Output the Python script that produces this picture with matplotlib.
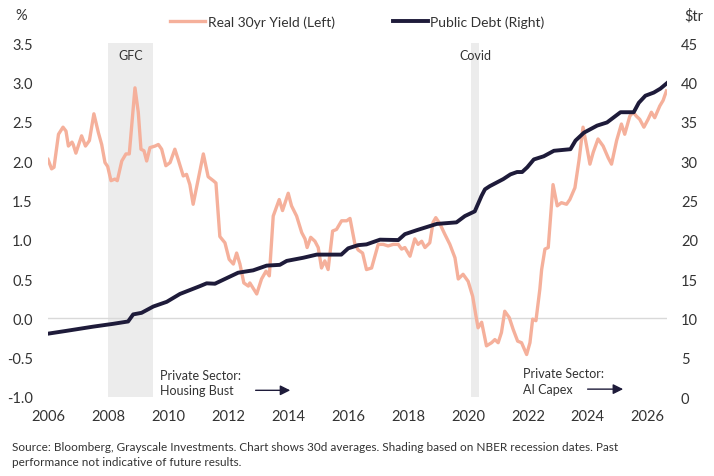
import matplotlib
matplotlib.use("Agg")
import matplotlib.pyplot as plt

plt.rcParams['font.family'] = ['Lato', 'DejaVu Sans']

# ---- data (decimal years) ----
yield_t = [2006.00, 2006.12, 2006.20, 2006.35, 2006.50, 2006.60, 2006.68, 2006.80, 2006.84, 2006.93,
           2007.12, 2007.25, 2007.38, 2007.53, 2007.68, 2007.79, 2007.90, 2007.99, 2008.10, 2008.23,
           2008.31, 2008.46, 2008.60, 2008.71, 2008.79, 2008.90, 2009.01, 2009.10, 2009.20, 2009.29,
           2009.40, 2009.57, 2009.68, 2009.79, 2009.93, 2010.07, 2010.23, 2010.34, 2010.51, 2010.62,
           2010.73, 2010.84, 2011.18, 2011.34, 2011.51, 2011.60, 2011.73, 2011.90, 2012.04, 2012.18,
           2012.29, 2012.40, 2012.53, 2012.68, 2012.73, 2012.96, 2013.12, 2013.27, 2013.38, 2013.51,
           2013.71, 2013.82, 2014.01, 2014.12, 2014.29, 2014.46, 2014.57, 2014.64, 2014.76, 2014.90,
           2015.01, 2015.12, 2015.23, 2015.34, 2015.49, 2015.62, 2015.79, 2015.96, 2016.07, 2016.23,
           2016.34, 2016.49, 2016.62, 2016.79, 2016.90, 2017.01, 2017.18, 2017.34, 2017.51, 2017.68,
           2017.79, 2017.90, 2018.07, 2018.23, 2018.34, 2018.46, 2018.57, 2018.73, 2018.84, 2018.93,
           2019.07, 2019.23, 2019.40, 2019.57, 2019.68, 2019.84, 2020.01, 2020.16, 2020.27, 2020.34,
           2020.46, 2020.62, 2020.79, 2020.90, 2021.01, 2021.12, 2021.23, 2021.38, 2021.51, 2021.66,
           2021.79, 2021.96, 2022.07, 2022.16, 2022.27, 2022.40, 2022.46, 2022.57, 2022.68, 2022.84,
           2022.98, 2023.12, 2023.29, 2023.40, 2023.57, 2023.71, 2023.84, 2023.96, 2024.07, 2024.18,
           2024.34, 2024.51, 2024.68, 2024.79, 2024.96, 2025.12, 2025.23, 2025.40, 2025.51, 2025.62,
           2025.73, 2025.87, 2026.01, 2026.12, 2026.23, 2026.40, 2026.51, 2026.62]
yield_v = [2.02, 1.90, 1.92, 2.34, 2.43, 2.38, 2.19, 2.24, 2.21, 2.10,
           2.32, 2.19, 2.26, 2.60, 2.36, 2.21, 1.98, 1.93, 1.75, 1.77,
           1.75, 2.00, 2.09, 2.09, 2.45, 2.93, 2.62, 2.15, 2.13, 2.00,
           2.17, 2.19, 2.21, 2.15, 1.94, 1.98, 2.15, 2.02, 1.81, 1.83,
           1.70, 1.45, 2.09, 1.80, 1.75, 1.72, 1.04, 0.96, 0.75, 0.69,
           0.83, 0.69, 0.45, 0.41, 0.45, 0.31, 0.50, 0.60, 0.54, 1.30,
           1.51, 1.37, 1.59, 1.43, 1.30, 1.09, 1.01, 0.90, 1.03, 0.98,
           0.90, 0.64, 0.73, 0.62, 1.11, 1.13, 1.24, 1.24, 1.27, 0.95,
           0.87, 0.83, 0.62, 0.64, 0.79, 0.94, 0.94, 0.92, 0.94, 0.94,
           0.88, 0.90, 0.79, 1.01, 0.94, 0.98, 0.90, 0.96, 1.22, 1.28,
           1.20, 1.07, 0.94, 0.77, 0.50, 0.56, 0.47, 0.28, 0.03, -0.12,
           -0.05, -0.35, -0.31, -0.27, -0.31, -0.18, 0.09, 0.01, -0.14, -0.29,
           -0.31, -0.46, -0.31, -0.01, -0.03, 0.37, 0.62, 0.88, 0.90, 1.70,
           1.43, 1.47, 1.45, 1.51, 1.66, 2.02, 2.43, 2.19, 1.96, 2.11,
           2.28, 2.19, 2.04, 1.96, 2.26, 2.47, 2.34, 2.57, 2.62, 2.57,
           2.53, 2.43, 2.53, 2.62, 2.55, 2.70, 2.77, 2.89]

debt_t = [2006.00, 2006.60, 2007.50, 2008.17, 2008.67, 2008.84, 2009.12, 2009.51, 2009.96, 2010.40,
          2011.07, 2011.29, 2011.57, 2011.62, 2012.34, 2012.84, 2013.29, 2013.73, 2013.96, 2014.51,
          2014.96, 2015.78, 2016.01, 2016.34, 2016.62, 2017.07, 2017.68, 2017.90, 2018.29, 2018.96,
          2019.62, 2019.90, 2020.23, 2020.46, 2020.57, 2020.73, 2021.18, 2021.42, 2021.64, 2021.81,
          2021.98, 2022.20, 2022.53, 2022.87, 2023.42, 2023.59, 2023.87, 2024.31, 2024.64, 2025.09,
          2025.53, 2025.70, 2025.92, 2026.20, 2026.42, 2026.64]
debt_v = [8.05, 8.4, 8.94, 9.3, 9.6, 10.5, 10.7, 11.5, 12.1, 13.1,
          14.1, 14.45, 14.4, 14.5, 15.8, 16.1, 16.7, 16.8, 17.3, 17.7,
          18.1, 18.1, 18.9, 19.3, 19.4, 20.0, 19.95, 20.7, 21.2, 22.0,
          22.2, 23.0, 23.6, 25.6, 26.4, 26.8, 27.7, 28.3, 28.6, 28.6,
          29.2, 30.2, 30.6, 31.3, 31.5, 32.6, 33.6, 34.5, 34.9, 36.2,
          36.2, 37.4, 38.3, 38.7, 39.2, 39.9]

recessions = [("GFC", 2008.0, 2009.5), ("Covid", 2020.1, 2020.37)]
x_ticks = [2006, 2008, 2010, 2012, 2014, 2016, 2018, 2020, 2022, 2024, 2026]
left_ticks = [-1.0, -0.5, 0.0, 0.5, 1.0, 1.5, 2.0, 2.5, 3.0, 3.5]
right_ticks = [0, 5, 10, 15, 20, 25, 30, 35, 40, 45]

YIELD_C = '#f5b09b'
DEBT_C = '#1e1b3a'
TEXT_C = '#333333'

fig = plt.figure(figsize=(7.14, 4.77), dpi=100)
ax = fig.add_axes([48/714, 1-398/477, (667-48)/714, (398-44)/477])
ax2 = ax.twinx()

for name, a, b in recessions:
    ax.axvspan(a, b, color='#ececec', zorder=0, lw=0)
    ax.text((a+b)/2, 3.35, name, ha='center', va='center', fontsize=9, color=TEXT_C)

ax.axhline(0, color='#d9d9d9', lw=1, zorder=1)
l1, = ax.plot(yield_t, yield_v, color=YIELD_C, lw=2.4, zorder=3, solid_joinstyle='round')
l2, = ax2.plot(debt_t, debt_v, color=DEBT_C, lw=2.8, zorder=4, solid_joinstyle='round')

ax.set_xlim(2006, 2026.64)
ax.set_ylim(-1.0, 3.5)
ax2.set_ylim(0, 45)
ax.set_xticks(x_ticks)
ax.set_xticklabels([str(t) for t in x_ticks])
ax.set_yticks(left_ticks)
ax.set_yticklabels([f"{v:.1f}" for v in left_ticks])
ax2.set_yticks(right_ticks)
ax2.set_yticklabels([str(v) for v in right_ticks])

for a in (ax, ax2):
    for s in a.spines.values():
        s.set_visible(False)
ax.tick_params(axis='both', length=0, labelsize=10.5, colors=TEXT_C)
ax.tick_params(axis='y', pad=11)
ax.tick_params(axis='x', pad=9)
ax2.tick_params(axis='y', length=0, labelsize=10.5, colors=TEXT_C, pad=10)

# annotations
ax.text(2009.73, -0.815, "Private Sector:\nHousing Bust", ha='left', va='center',
        fontsize=9, color=TEXT_C, linespacing=1.35)
ax.annotate("", xy=(2014.17, -0.915), xytext=(2012.83, -0.915),
            arrowprops=dict(arrowstyle='-|>', color=DEBT_C, lw=1, mutation_scale=15))
ax.text(2021.83, -0.795, "Private Sector:\nAI Capex", ha='left', va='center',
        fontsize=9, color=TEXT_C, linespacing=1.35)
ax.annotate("", xy=(2025.27, -0.90), xytext=(2023.9, -0.90),
            arrowprops=dict(arrowstyle='-|>', color=DEBT_C, lw=1, mutation_scale=15))

fig.text(21/714, 1-16/477, "%", ha='center', va='center', fontsize=10.5, color=TEXT_C)
fig.text(694/714, 1-16/477, "$tr", ha='center', va='center', fontsize=10.5, color=TEXT_C)

fig.legend([l1, l2], ["Real 30yr Yield (Left)", "Public Debt (Right)"], ncol=2,
           loc='center left', bbox_to_anchor=(170/714, 1-23/477), frameon=False,
           fontsize=10, handlelength=2.5, handletextpad=0.2, columnspacing=4.2,
           borderpad=0, borderaxespad=0, labelcolor=TEXT_C)

fig.text(12/714, 1-455/477,
         "Source: Bloomberg, Grayscale Investments. Chart shows 30d averages. Shading based on NBER recession dates. Past\n"
         "performance not indicative of future results.",
         ha='left', va='center', fontsize=8.5, color=TEXT_C, linespacing=1.4)

fig.savefig("out.png", dpi=100, facecolor='white')
